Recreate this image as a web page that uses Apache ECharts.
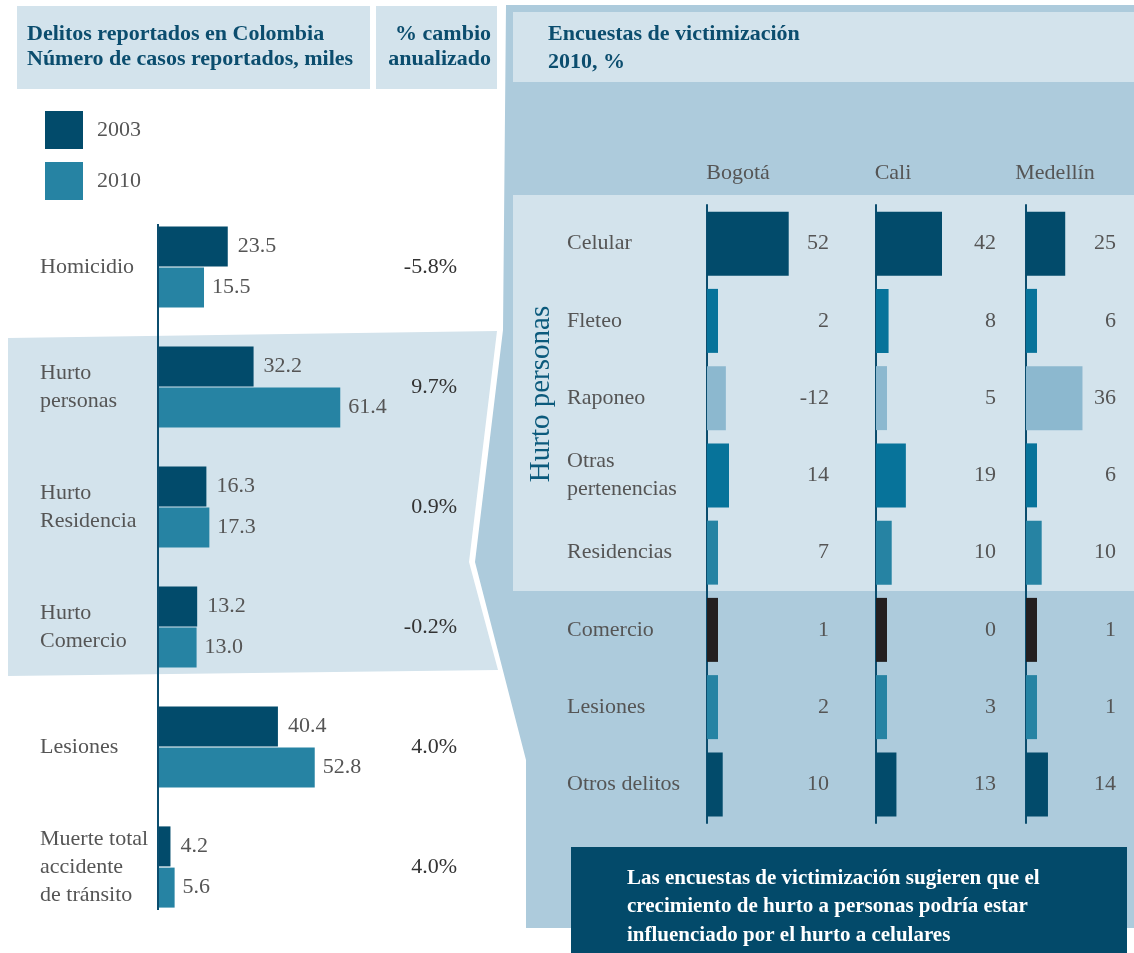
<!DOCTYPE html>
<html>
<head>
<meta charset="utf-8">
<title>Delitos reportados en Colombia</title>
<script src="https://cdn.jsdelivr.net/npm/echarts@6/dist/echarts.min.js"></script>
<style>
  body { margin: 0; background: #fff; }
  #main { width: 1134px; height: 953px; }
</style>
</head>
<body>
<div id="main"></div>
<script>
// datos del panel izquierdo (miles de casos)
const categorias = ['Homicidio', 'Hurto\npersonas', 'Hurto\nResidencia', 'Hurto\nComercio', 'Lesiones', 'Muerte total\naccidente\nde tránsito'];
const casos2003 = [23.5, 32.2, 16.3, 13.2, 40.4, 4.2];
const casos2010 = [15.5, 61.4, 17.3, 13.0, 52.8, 5.6];
const cambioAnual = ['-5.8%', '9.7%', '0.9%', '-0.2%', '4.0%', '4.0%'];

// encuestas de victimización 2010, %
const ciudades = ['Bogotá', 'Cali', 'Medellín'];
const tipos = ['Celular', 'Fleteo', 'Raponeo', 'Otras\npertenencias', 'Residencias', 'Comercio', 'Lesiones', 'Otros delitos'];
const bogota = [52, 2, -12, 14, 7, 1, 2, 10];
const cali = [42, 8, 5, 19, 10, 0, 3, 13];
const medellin = [25, 6, 36, 6, 10, 1, 1, 14];

const SERIF = '"Liberation Serif", "Times New Roman", serif';
const DARK = '#024b6b';
const TEAL = '#2683a3';
const GRIS = '#555';
const TITULO = '#0b4d6e';
const coloresFila = [DARK, '#07739a', '#8cb8cf', '#07739a', TEAL, '#231f20', TEAL, DARK];

const chart = echarts.init(document.getElementById('main'));

// un grid por ciudad
const gridsCiudad = [
  { left: 707, width: 110, max: 70, margin: 12 },
  { left: 876, width: 110, max: 70, margin: 10 },
  { left: 1026, width: 80, max: 51, margin: 10 }
];
const valoresCiudad = [bogota, cali, medellin];

const grids = [{ left: 158, top: 207, width: 282, height: 720 }];
const xAxes = [{ gridIndex: 0, type: 'value', min: 0, max: 95, show: false }];
const yAxes = [
  {
    gridIndex: 0, type: 'category', data: categorias, inverse: true,
    axisLine: { show: false }, axisTick: { show: false },
    axisLabel: { align: 'left', margin: 118, fontSize: 22, lineHeight: 28, color: GRIS, fontFamily: SERIF }
  },
  {
    gridIndex: 0, type: 'category', data: cambioAnual, inverse: true, position: 'right',
    axisLine: { show: false }, axisTick: { show: false },
    axisLabel: { align: 'right', margin: 17, fontSize: 22, color: '#333', fontFamily: SERIF }
  }
];
const series = [
  {
    name: '2003', type: 'bar', data: casos2003, barWidth: 40, barGap: '3%',
    itemStyle: { color: DARK },
    label: { show: true, position: 'right', distance: 10, fontSize: 22, color: GRIS, fontFamily: SERIF,
      formatter: p => p.value.toFixed(1) }
  },
  {
    name: '2010', type: 'bar', data: casos2010, barWidth: 40,
    itemStyle: { color: TEAL },
    label: { show: true, position: 'right', distance: 8, fontSize: 22, color: GRIS, fontFamily: SERIF,
      formatter: p => p.value.toFixed(1) }
  }
];

gridsCiudad.forEach((g, i) => {
  const gi = i + 1;
  grids.push({ left: g.left, top: 205, width: g.width, height: 618 });
  xAxes.push({ gridIndex: gi, type: 'value', min: 0, max: g.max, show: false });
  yAxes.push({
    gridIndex: gi, type: 'category', data: tipos, inverse: true,
    axisLine: { show: true, lineStyle: { color: TITULO, width: 2 } }, axisTick: { show: false },
    axisLabel: { show: i === 0, align: 'left', margin: 140, fontSize: 22, lineHeight: 28, color: GRIS, fontFamily: SERIF }
  });
  yAxes.push({
    gridIndex: gi, type: 'category', data: valoresCiudad[i].map(String), inverse: true, position: 'right',
    axisLine: { show: false }, axisTick: { show: false },
    axisLabel: { align: 'right', margin: g.margin, fontSize: 22, color: GRIS, fontFamily: SERIF }
  });
  series.push({
    type: 'bar', xAxisIndex: gi, yAxisIndex: yAxes.length - 2, barWidth: 64, barMinHeight: 11,
    // la barra de Raponeo (-12) se dibuja hacia la derecha, como en el original
    data: valoresCiudad[i].map((v, k) => ({ value: Math.abs(v), itemStyle: { color: coloresFila[k] } }))
  });
});

const option = {
  animation: false,
  backgroundColor: '#fff',
  textStyle: { fontFamily: SERIF },
  legend: {
    data: ['2003', '2010'], orient: 'vertical', left: 40, top: 106,
    itemWidth: 38, itemHeight: 38, itemGap: 13, icon: 'rect',
    textStyle: { fontSize: 22, color: GRIS, fontFamily: SERIF, padding: [12, 0, 0, 9] }
  },
  grid: grids,
  xAxis: xAxes,
  yAxis: yAxes,
  series: series,
  graphic: [
    // fondos
    { type: 'polygon', z: -10, shape: { points: [[506, 5], [1134, 5], [1134, 928], [526, 928], [526, 760], [475, 562], [503, 330]] },
      style: { fill: '#adcbdc' } },
    { type: 'rect', z: -9, shape: { x: 513, y: 12, width: 621, height: 70 }, style: { fill: '#d3e3ec' } },
    { type: 'rect', z: -9, shape: { x: 513, y: 195, width: 621, height: 396 }, style: { fill: '#d3e3ec' } },
    { type: 'polygon', z: -10, shape: { points: [[8, 338], [497, 331], [469, 562], [498, 670], [8, 676]] },
      style: { fill: '#d3e3ec' } },
    { type: 'rect', z: -10, shape: { x: 17, y: 6, width: 353, height: 83 }, style: { fill: '#d3e3ec' } },
    { type: 'rect', z: -10, shape: { x: 376, y: 6, width: 121, height: 83 }, style: { fill: '#d3e3ec' } },
    { type: 'rect', z: 5, shape: { x: 571, y: 847, width: 556, height: 110 }, style: { fill: '#034a6a' } },
    // eje del panel izquierdo
    { type: 'line', z: 10, shape: { x1: 158, y1: 224, x2: 158, y2: 910 }, style: { stroke: TITULO, lineWidth: 2 } },
    // títulos
    { type: 'text', z: 10, x: 27, y: 22, style: { text: 'Delitos reportados en Colombia\nNúmero de casos reportados, miles',
      font: 'bold 22px ' + SERIF, lineHeight: 25, fill: TITULO } },
    { type: 'text', z: 10, x: 491, y: 22, style: { text: '% cambio\nanualizado', align: 'right',
      font: 'bold 22px ' + SERIF, lineHeight: 25, fill: TITULO } },
    { type: 'text', z: 10, x: 548, y: 20, style: { text: 'Encuestas de victimización\n2010, %',
      font: 'bold 22px ' + SERIF, lineHeight: 28, fill: TITULO } },
    // ciudades
    ...ciudades.map((c, i) => ({ type: 'text', z: 10, x: [738, 893, 1055][i], y: 173,
      style: { text: c, align: 'center', verticalAlign: 'middle', font: '22px ' + SERIF, fill: GRIS } })),
    { type: 'text', z: 10, x: 541, y: 394, rotation: Math.PI / 2,
      style: { text: 'Hurto personas', align: 'center', verticalAlign: 'middle', font: '29px ' + SERIF, fill: '#0b5a7c' } },
    { type: 'text', z: 10, x: 627, y: 864, style: {
      text: 'Las encuestas de victimización sugieren que el\ncrecimiento de hurto a personas podría estar\ninfluenciado por el hurto a celulares',
      font: 'bold 21px ' + SERIF, lineHeight: 28.5, fill: '#fff' } }
  ]
};

chart.setOption(option);
</script>
</body>
</html>
